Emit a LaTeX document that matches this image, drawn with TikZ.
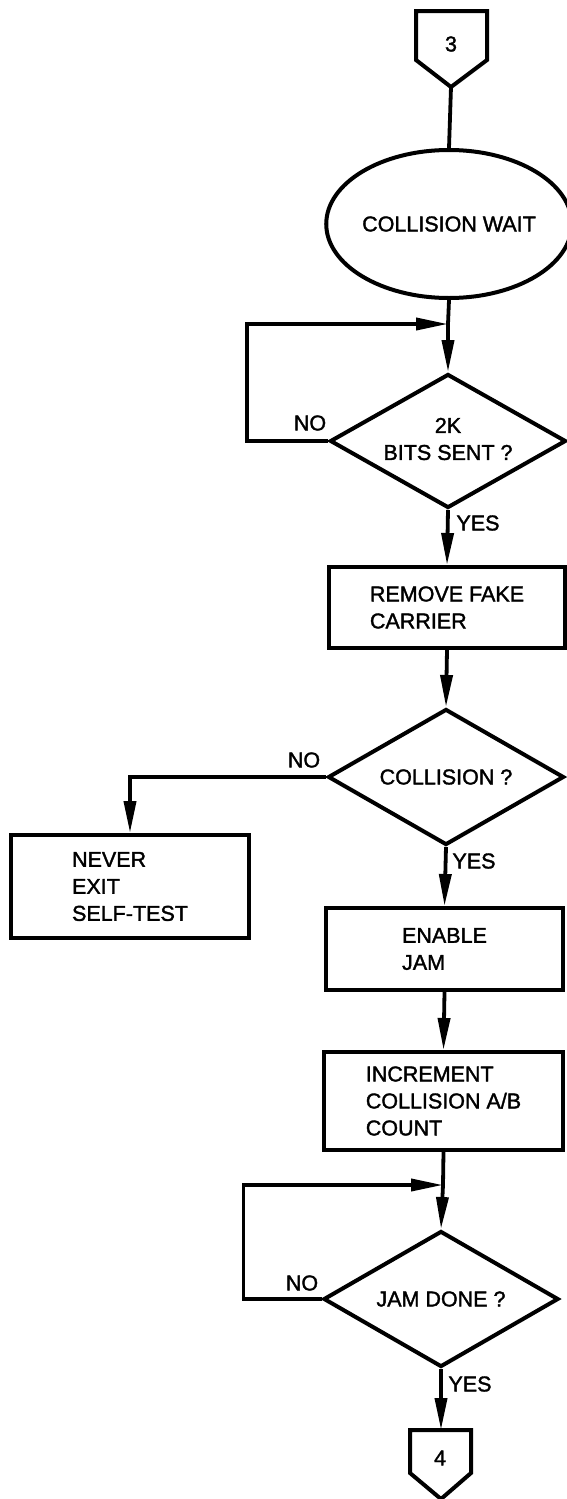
\documentclass[tikz,border=0pt]{standalone}
\usepackage{fontspec}
\setmainfont{Liberation Sans}[BoldFont=Liberation Sans,BoldFeatures={FakeBold=1.6}]
\usetikzlibrary{shapes.geometric,arrows.meta}
\begin{document}
\begin{tikzpicture}[x=1pt,y=-1pt,
  every node/.style={font=\fontsize{21.5}{27}\selectfont\bfseries},
  ln/.style={line width=3.8pt},
  arr/.style={ln,-{Triangle[length=32pt,width=12pt]}},
  boxnode/.style={draw,line width=4pt,rectangle,align=left,inner sep=0pt},
  decision/.style={draw,line width=4pt,diamond,aspect=1.74,align=center,inner sep=0pt},
  terminal/.style={draw,line width=4pt,ellipse,inner sep=0pt},
  lbl/.style={inner sep=0pt}
]
\useasboundingbox (0,0) rectangle (566,1499);
\fill[white] (0,0) rectangle (566,1499);

% off-page connector 3
\draw[line width=4pt,line join=miter] (416,11) -- (487,11) -- (487,60) -- (451,87) -- (416,60) -- cycle;
\node[lbl] (c3) at (451,44) {3};
\coordinate (c3tip) at (451,87);

\node[terminal,minimum width=232pt,minimum height=148pt] (wait) at (449,224) {COLLISION WAIT};
\coordinate (j1) at (448,324);
\node[decision,minimum width=236pt,minimum height=134pt] (d1) at (448,441)
  {\raisebox{6pt}{\begin{tabular}{@{}c@{}}2K\\BITS SENT ?\end{tabular}}};
\node[boxnode,minimum width=236pt,minimum height=81pt] (remove) at (447,607.5) {REMOVE FAKE\\CARRIER};
\node[decision,minimum width=236pt,minimum height=136pt] (d2) at (446,777) {COLLISION ?};
\node[boxnode,minimum width=238pt,minimum height=103pt] (never) at (130,886.5) {NEVER\\EXIT\\SELF-TEST};
\node[boxnode,minimum width=237pt,minimum height=82pt] (enable) at (444.5,949) {ENABLE\\JAM};
\node[boxnode,minimum width=239pt,minimum height=98pt] (incr) at (443.5,1101) {INCREMENT\\COLLISION A/B\\COUNT};
\coordinate (j2) at (443,1185);
\node[decision,minimum width=235pt,minimum height=136pt] (d3) at (441,1299) {JAM DONE ?};

% off-page connector 4
\draw[line width=4pt,line join=miter] (410,1430) -- (471,1430) -- (471,1473) -- (441,1499) -- (410,1473) -- cycle;
\node[lbl] (c4) at (440,1458) {4};
\coordinate (c4top) at (441,1430);

% connectors
\draw[ln] (c3tip) -- (wait.south |- wait.north);
\draw[ln] (wait.south) -- (j1);
\draw[arr] (j1) -- (d1.north);
\draw[arr] (d1.west) -- ++(-81,0) |- (j1);
\draw[arr] (d1.south) -- (remove.north);
\draw[arr] (remove.south) -- (d2.north);
\draw[arr] (d2.west) -| (never.north);
\draw[arr] (d2.south) -- (enable.north);
\draw[arr] (enable.south) -- (incr.north);
\draw[ln] (incr.south) -- (j2);
\draw[arr] (j2) -- (d3.north);
\draw[arr] (d3.west) -- ++(-78,0) |- (j2);
\draw[arr] (d3.south) -- (c4top);

% labels
\node[lbl] (no1) at (310,423) {NO};
\node[lbl] (yes1) at (478,523) {YES};
\node[lbl] (no2) at (304,760) {NO};
\node[lbl] (yes2) at (474,861) {YES};
\node[lbl] (no3) at (302,1283) {NO};
\node[lbl] (yes3) at (470,1384) {YES};
\end{tikzpicture}
\end{document}
